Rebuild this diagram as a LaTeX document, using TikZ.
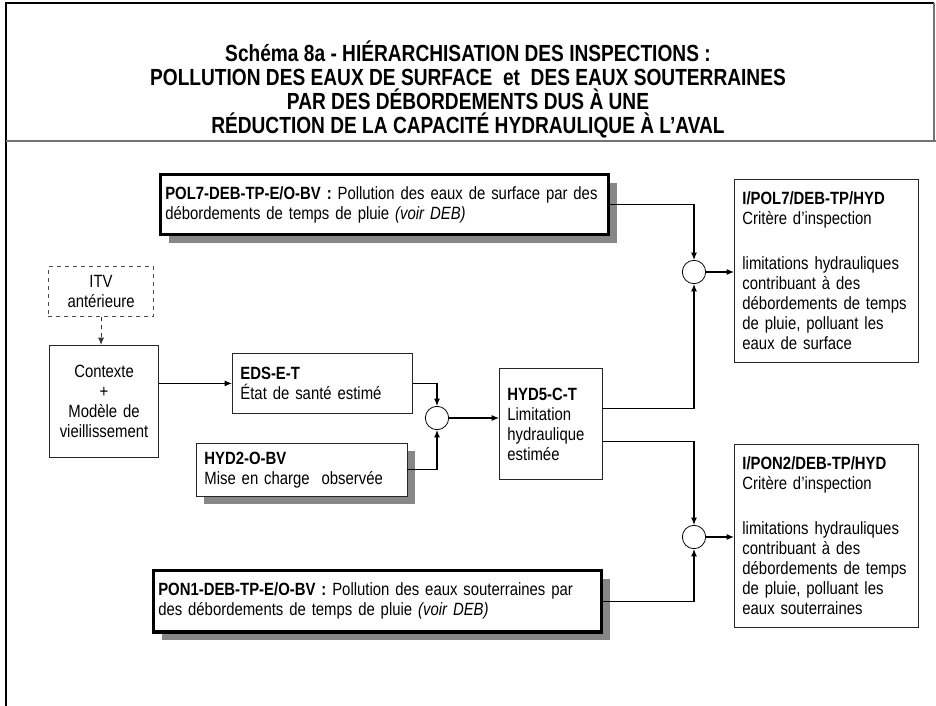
\documentclass[tikz,border=0pt]{standalone}
\usepackage{fontspec}
\setmainfont[FakeStretch=0.84]{Liberation Sans}
\newfontfamily\titlefont[FakeStretch=0.82]{Liberation Sans}
\usetikzlibrary{positioning, arrows.meta, shadows}

\newcommand\bodyfont{\fontsize{13.3}{15}\selectfont}

\tikzset{
	box/.style={draw=black!85, fill=white, line width=0.6pt, inner xsep=6pt, inner ysep=3pt, anchor=north west, align=left, font=\bodyfont},
	greyshadow/.style={drop shadow={shadow xshift=6pt, shadow yshift=-6pt, opacity=1, fill=black!47}},
	thickbox/.style={box, draw=black, line width=2.4pt, inner xsep=3.5pt, greyshadow},
	shadowbox/.style={box, greyshadow},
	dashbox/.style={box, draw=black!70, dashed, align=center},
	sum/.style={draw, fill=white, circle, line width=0.6pt, minimum size=17.5pt, inner sep=0pt},
	link/.style={->, line width=0.8pt},
	>={Latex[length=5.5pt, width=4.5pt]}
}

\begin{document}
\begin{tikzpicture}[x=0.75pt, y=-0.75pt]

	\useasboundingbox (0,0) rectangle (936,706);

	% frame and title
	\draw[line width=2pt] (6,706) -- (6,3) -- (934,3);
	\draw[black!55, line width=1pt] (934,3) -- (934,141);
	\draw[black!55, line width=1.5pt] (6,141) -- (936,141);
	\node[font=\titlefont\bfseries\fontsize{17.5}{18}\selectfont, align=center] (title) at (468,89)
		{Schéma 8a - HIÉRARCHISATION DES INSPECTIONS :\\
		POLLUTION DES EAUX DE SURFACE\ \ et\ \ DES EAUX SOUTERRAINES\\
		PAR DES DÉBORDEMENTS DUS À UNE\\
		RÉDUCTION DE LA CAPACITÉ HYDRAULIQUE À L’AVAL};

	% boxes
	\node[thickbox, text width=329pt, minimum height=45pt] (pol7) at (159,173)
		{\textbf{POL7-DEB-TP-E/O-BV :} Pollution des eaux de surface par des\\
		débordements de temps de pluie \textit{(voir DEB)}};
	\node[dashbox, text width=67pt, minimum height=37.5pt] (itv) at (48,266) {ITV\\antérieure};
	\node[box, align=center, text width=70pt, minimum height=84pt] (ctx) at (49,345)
		{Contexte\\+\\Modèle de\\vieillissement};
	\node[box, text width=123pt, minimum height=45pt] (eds) at (232,353)
		{\textbf{EDS-E-T}\\État de santé estimé};
	\node[shadowbox, text width=146pt, minimum height=39.75pt] (hyd2) at (196,443)
		{\textbf{HYD2-O-BV}\\Mise en charge\ \ observée};
	\node[box, text width=65pt, minimum height=83.25pt] (hyd5) at (499,368)
		{\textbf{HYD5-C-T}\\Limitation\\hydraulique\\estimée};
	\node[thickbox, text width=329pt, minimum height=46pt] (pon1) at (152,569)
		{\textbf{PON1-DEB-TP-E/O-BV :} Pollution des eaux souterraines par\\
		des débordements de temps de pluie \textit{(voir DEB)}};
	\node[box, text width=126pt, minimum height=137pt] (ipol7) at (734,179)
		{\textbf{I/POL7/DEB-TP/HYD}\\Critère d’inspection\\[18.75pt]
		limitations hydrauliques\\contribuant à des\\débordements de temps\\de pluie, polluant les\\eaux de surface};
	\node[box, text width=126pt, minimum height=137pt] (ipon2) at (734,444)
		{\textbf{I/PON2/DEB-TP/HYD}\\Critère d’inspection\\[18.75pt]
		limitations hydrauliques\\contribuant à des\\débordements de temps\\de pluie, polluant les\\eaux souterraines};

	% junctions
	\node[sum] (s1) at (694,272) {};
	\node[sum] (s2) at (694,537) {};
	\node[sum] (s3) at (437,418) {};

	% connectors
	\draw[link, dashed, black!80] (itv.south) -- (itv.south |- ctx.north);
	\draw[link] (eds.west -| ctx.east) -- (eds.west);
	\draw[link] (eds.east) -| (s3.north);
	\draw[link] (hyd2.east) -| (s3.south);
	\draw[link] (s3.east) -- (s3.east -| hyd5.west);
	\draw[link] (pol7.east) -| (s1.north);
	\draw[link] ([yshift=11.5pt]hyd5.east) -| (s1.south);
	\draw[link] ([yshift=-13pt]hyd5.east) -| (s2.north);
	\draw[link] (pon1.east) -| (s2.south);
	\draw[link] (s1.east) -- (s1.east -| ipol7.west);
	\draw[link] (s2.east) -- (s2.east -| ipon2.west);

\end{tikzpicture}
\end{document}
